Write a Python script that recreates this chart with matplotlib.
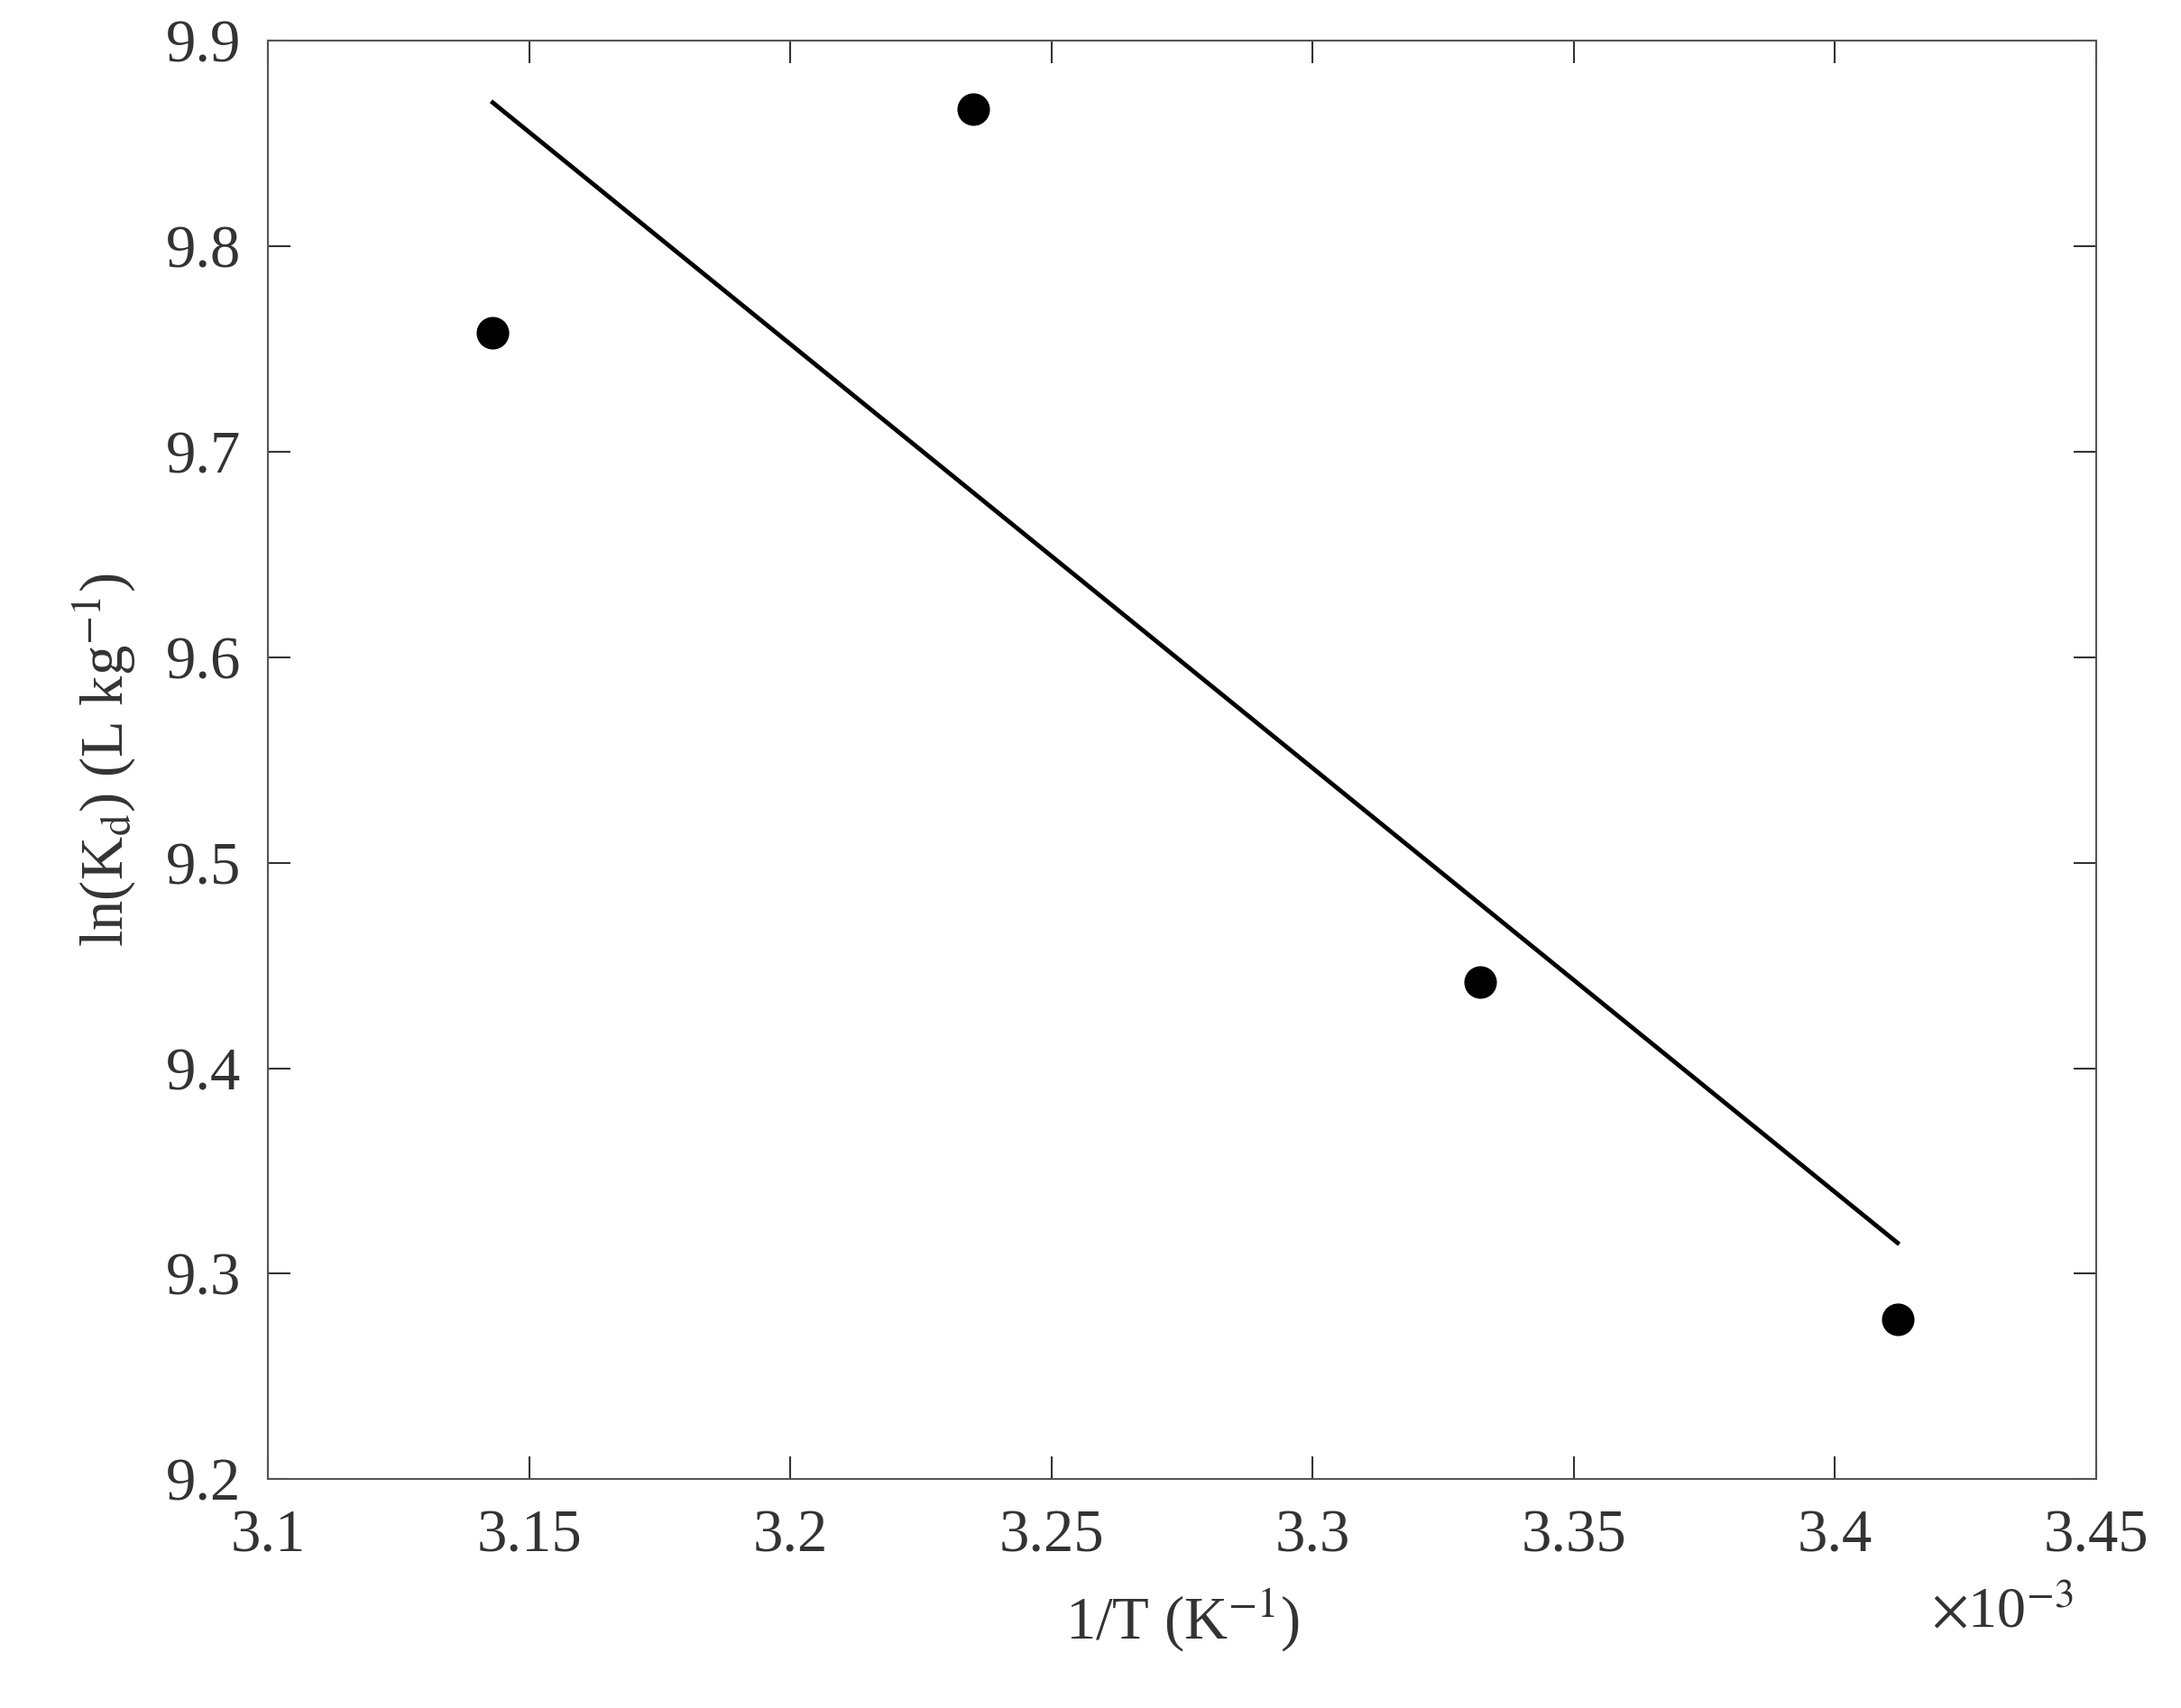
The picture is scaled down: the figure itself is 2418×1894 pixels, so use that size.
import matplotlib
matplotlib.use("Agg")
import matplotlib.pyplot as plt

x_pts = [3.143e-3, 3.235e-3, 3.332e-3, 3.412e-3]
y_pts = [9.758, 9.867, 9.442, 9.278]
x_fit = [3.143e-3, 3.412e-3]
y_fit = [9.870, 9.315]
xticks = [3.1, 3.15, 3.2, 3.25, 3.3, 3.35, 3.4, 3.45]
yticks = [9.2, 9.3, 9.4, 9.5, 9.6, 9.7, 9.8, 9.9]

plt.rcParams['font.family'] = ['Liberation Serif', 'DejaVu Serif']
plt.rcParams['mathtext.fontset'] = 'stix'
fig = plt.figure(figsize=(24.18, 18.94), dpi=100)
ax = fig.add_axes([0.123, 0.134, 0.838, 0.842])
ax.plot([v * 1e3 for v in x_fit], y_fit, color='black', lw=3.5)
ax.plot([v * 1e3 for v in x_pts], y_pts, 'o', color='black', ms=25, ls='none')
ax.set_xlim(3.1, 3.45)
ax.set_ylim(9.2, 9.9)
ax.set_xticks(xticks)
ax.set_xticklabels([f"{t:g}" for t in xticks])
ax.set_yticks(yticks)
ax.set_yticklabels([f"{t:g}" for t in yticks])
ax.tick_params(direction='in', length=18, width=1.5, top=True, right=True, labelsize=48, colors='#333333')
ax.tick_params(axis='x', pad=24)
ax.tick_params(axis='y', pad=22)
for s in ax.spines.values():
    s.set_linewidth(1.5)
    s.set_color('#555555')
ax.set_xlabel(r'1/T (K$^{-1}$)', fontsize=48, color='#333333', labelpad=18)
ax.set_ylabel(r'ln(K$_{\rm d}$) (L kg$^{-1}$)', fontsize=48, color='#333333', labelpad=22)
ax.text(0.949, -0.094, r'$\times$10$^{-3}$', transform=ax.transAxes, fontsize=46, ha='center', va='center', color='#333333')
fig.savefig('out.png', dpi=100, facecolor='white')
